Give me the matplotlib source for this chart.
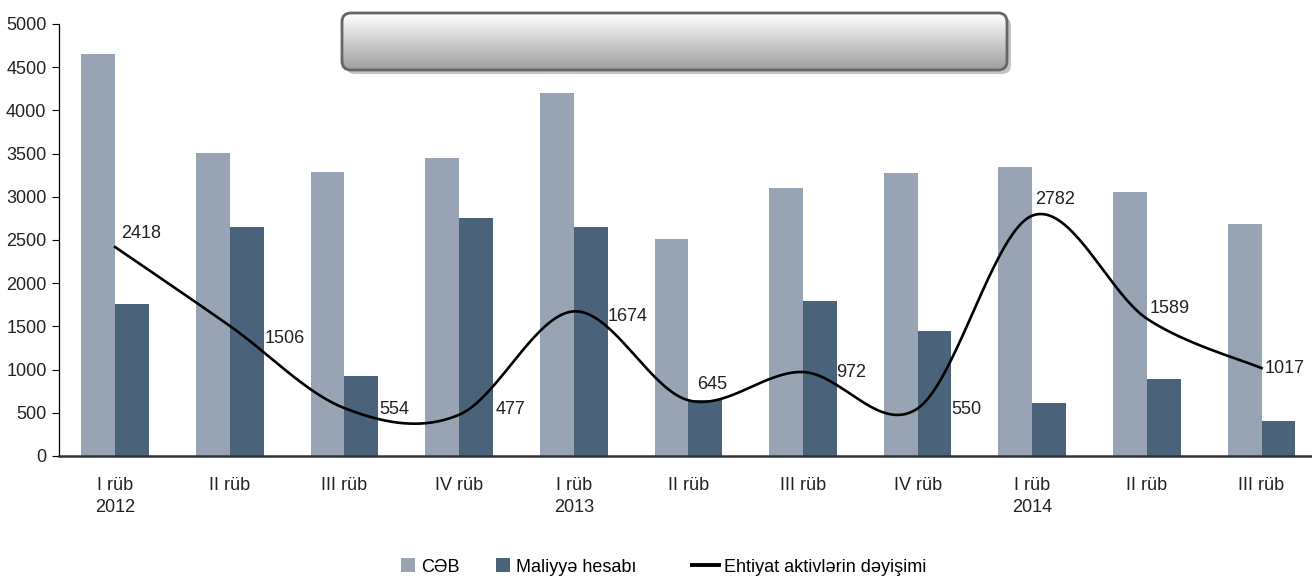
import numpy as np
import matplotlib
matplotlib.use("Agg")
import matplotlib.pyplot as plt
from matplotlib.patches import FancyBboxPatch, Patch
from matplotlib.lines import Line2D

plt.rcParams['font.family'] = ['Liberation Sans', 'DejaVu Sans']

# ---- data ----
quarters = ['I rüb\n2012', 'II rüb', 'III rüb', 'IV rüb', 'I rüb\n2013', 'II rüb',
            'III rüb', 'IV rüb', 'I rüb\n2014', 'II rüb', 'III rüb']
ceb = [4650, 3510, 3290, 3450, 4200, 2510, 3100, 3270, 3340, 3050, 2690]
maliyye = [1760, 2650, 930, 2750, 2650, 648, 1790, 1445, 612, 895, 408]
ehtiyat = [2418, 1506, 554, 477, 1674, 645, 972, 550, 2782, 1589, 1017]

c_light = '#98a4b3'
c_dark = '#4a637b'


def smooth_curve(y, n=40):
    """Excel-like smoothed line (Catmull-Rom as cubic Bezier)"""
    y = np.asarray(y, dtype=float)
    x = np.arange(len(y), dtype=float)
    xp = np.concatenate([[x[0]], x, [x[-1]]])
    yp = np.concatenate([[y[0]], y, [y[-1]]])
    xs, ys = [], []
    t = np.linspace(0, 1, n)
    for i in range(len(y) - 1):
        p0x, p0y = xp[i + 1], yp[i + 1]
        p3x, p3y = xp[i + 2], yp[i + 2]
        c1x = p0x + (xp[i + 2] - xp[i]) / 6
        c1y = p0y + (yp[i + 2] - yp[i]) / 6
        c2x = p3x - (xp[i + 3] - xp[i + 1]) / 6
        c2y = p3y - (yp[i + 3] - yp[i + 1]) / 6
        b = [(1 - t) ** 3, 3 * (1 - t) ** 2 * t, 3 * (1 - t) * t ** 2, t ** 3]
        xs.append(b[0] * p0x + b[1] * c1x + b[2] * c2x + b[3] * p3x)
        ys.append(b[0] * p0y + b[1] * c1y + b[2] * c2y + b[3] * p3y)
    return np.concatenate(xs), np.concatenate(ys)


W, H = 1312, 578
fig = plt.figure(figsize=(W / 100, H / 100), dpi=100)
ax = fig.add_axes([59 / W, 1 - 456 / H, (W - 59) / W, 432 / H])

x = np.arange(len(quarters))
bw = 0.295
ax.bar(x - bw / 2, ceb, width=bw, color=c_light, zorder=2)
ax.bar(x + bw / 2, maliyye, width=bw, color=c_dark, zorder=2)

sx, sy = smooth_curve(ehtiyat)
ax.plot(sx, sy, color='black', linewidth=1.9, zorder=3)

# label offsets (points) as Excel placed them
offsets = [(4, 9.5), (25, -9), (25, -1), (26, 3.5), (24.5, -3.5), (6.5, 11),
           (24, 0), (24, -1), (2, 11.5), (2, 7), (2, 0)]
for xi, v, off in zip(x, ehtiyat, offsets):
    ax.annotate(str(v), xy=(xi, v), xytext=off, textcoords='offset points',
                ha='left', va='center', fontsize=13, color='#222222', zorder=4)

ax.set_xlim(-0.49, 10.44)
ax.set_ylim(0, 5000)
ax.set_yticks(np.arange(0, 5001, 500))
ax.set_xticks(x)
ax.set_xticklabels(quarters, fontsize=13, linespacing=1.4)
ax.tick_params(axis='x', length=0, pad=15, colors='#222222')
ax.tick_params(axis='y', length=5, pad=4, labelsize=13, width=0.8, labelcolor='#222222')
for s in ['top', 'right']:
    ax.spines[s].set_visible(False)
ax.spines['left'].set_linewidth(0.9)
ax.spines['bottom'].set_linewidth(1.8)
ax.spines['bottom'].set_color('#333333')

# ---- decorative empty title box with gradient ----
bx = fig.add_axes([0, 0, 1, 1], zorder=5)
bx.axis('off')
bx.patch.set_alpha(0)
x0, y0, x1, y1 = 342, 13, 1007, 70
shadow = FancyBboxPatch((x0 + 4, y0 + 4), x1 - x0, y1 - y0,
                        boxstyle='round,pad=0,rounding_size=9',
                        facecolor='#c4c4c4', edgecolor='none', zorder=1)
bx.add_patch(shadow)
clip = FancyBboxPatch((x0, y0), x1 - x0, y1 - y0,
                      boxstyle='round,pad=0,rounding_size=9',
                      facecolor='white', edgecolor='none', zorder=2)
bx.add_patch(clip)
grad = np.linspace(1.0, 0.62, 100).reshape(-1, 1)
im = bx.imshow(grad, cmap='gray', vmin=0, vmax=1, aspect='auto',
               extent=(x0, x1, y1, y0), interpolation='bilinear', zorder=3)
im.set_clip_path(clip)
border = FancyBboxPatch((x0, y0), x1 - x0, y1 - y0,
                        boxstyle='round,pad=0,rounding_size=9',
                        facecolor='none', edgecolor='#666666', linewidth=2, zorder=4)
bx.add_patch(border)
bx.set_xlim(0, W)
bx.set_ylim(H, 0)

# ---- legend (three entries placed like the original) ----
entries = [
    (Patch(facecolor=c_light, edgecolor='none'), 'CƏB', 401),
    (Patch(facecolor=c_dark, edgecolor='none'), 'Maliyyə hesabı', 496),
    (Line2D([0], [0], color='black', linewidth=2.8), 'Ehtiyat aktivlərin dəyişimi', 692),
]
for h, lab, px in entries:
    is_line = isinstance(h, Line2D)
    fig.legend([h], [lab], loc='center left', bbox_to_anchor=(px / W, 11 / H),
               frameon=False, fontsize=13, borderpad=0, borderaxespad=0,
               handlelength=1.5 if is_line else 0.8, handleheight=0.8,
               handletextpad=0.3)

fig.savefig('out.png', dpi=100)
